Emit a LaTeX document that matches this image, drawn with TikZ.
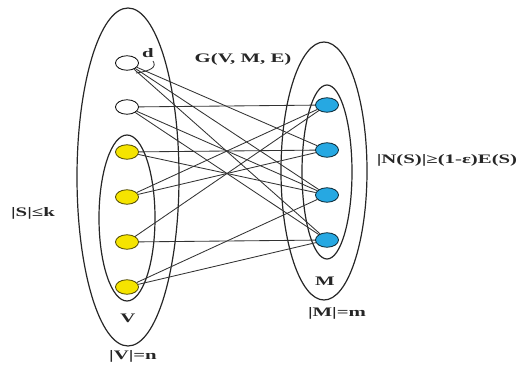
\documentclass[tikz,border=0pt]{standalone}
\usepackage{fontspec}
\setmainfont{Liberation Serif}
\usetikzlibrary{shapes.geometric}
\definecolor{VYellow}{RGB}{245,228,0}
\definecolor{MBlue}{RGB}{38,168,226}
\tikzset{
	wv/.style={ellipse,draw=black,fill=white,line width=0.8pt,minimum width=23pt,minimum height=14.5pt,inner sep=0pt},
	yv/.style={wv,draw=black!70!VYellow,fill=VYellow},
	bv/.style={wv,draw=black!80!MBlue,fill=MBlue},
	edge/.style={draw=black!80,line width=0.85pt},
	setline/.style={draw=black!85,line width=1.2pt},
	lbl/.style={font=\bfseries\fontsize{13}{15}\selectfont,text=black!85,xscale=1.6,inner sep=0pt},
}

\begin{document}
\begin{tikzpicture}[x=1pt,y=-1pt]
	\useasboundingbox (0,0) rectangle (525,366);
	% sets
	\draw[setline] (128,177) ellipse [x radius=51pt,y radius=169pt];
	\draw[setline] (127,218) ellipse [x radius=28pt,y radius=83pt];
	\draw[setline] (324,171) ellipse [x radius=43pt,y radius=129pt];
	\draw[setline] (327,172) ellipse [x radius=25pt,y radius=87pt];
	% left side
	\node[wv] (v1) at (127,63) {};
	\node[wv] (v2) at (127,107) {};
	\node[yv] (v3) at (127,152) {};
	\node[yv] (v4) at (127,197) {};
	\node[yv] (v5) at (127,242) {};
	\node[yv] (v6) at (127,287) {};
	% right side
	\node[bv] (m1) at (327,105) {};
	\node[bv] (m2) at (327,150) {};
	\node[bv] (m3) at (327,195) {};
	\node[bv] (m4) at (327,240) {};
	% edges
	\draw[edge] (v1)--(m2);
	\draw[edge] (v1)--(m3);
	\draw[edge] (v1)--(m4);
	\draw[edge] (v2)--(m1);
	\draw[edge] (v2)--(m3);
	\draw[edge] (v2)--(m4);
	\draw[edge] (v3)--(m2);
	\draw[edge] (v3)--(m3);
	\draw[edge] (v4)--(m1);
	\draw[edge] (v4)--(m2);
	\draw[edge] (v5)--(m1);
	\draw[edge] (v5)--(m4);
	\draw[edge] (v6)--(m3);
	\draw[edge] (v6)--(m4);
	% degree mark
	\draw[edge] (153,61) .. controls (157,67) and (151,71) .. (136,73);
	% labels
	\node[lbl] (deg) at (148,53) {d};
	\node[lbl] (graph) at (243,59) {G(V, M, E)};
	\node[lbl] (sbound) at (33,213) {|S|≤k};
	\node[lbl] (expand) at (447,160) {|N(S)|≥(1-ε)E(S)};
	\node[lbl] (mname) at (325,281) {M};
	\node[lbl] (msize) at (337,313) {|M|=m};
	\node[lbl] (vname) at (128,318) {V};
	\node[lbl] (vsize) at (133,356) {|V|=n};
\end{tikzpicture}
\end{document}
